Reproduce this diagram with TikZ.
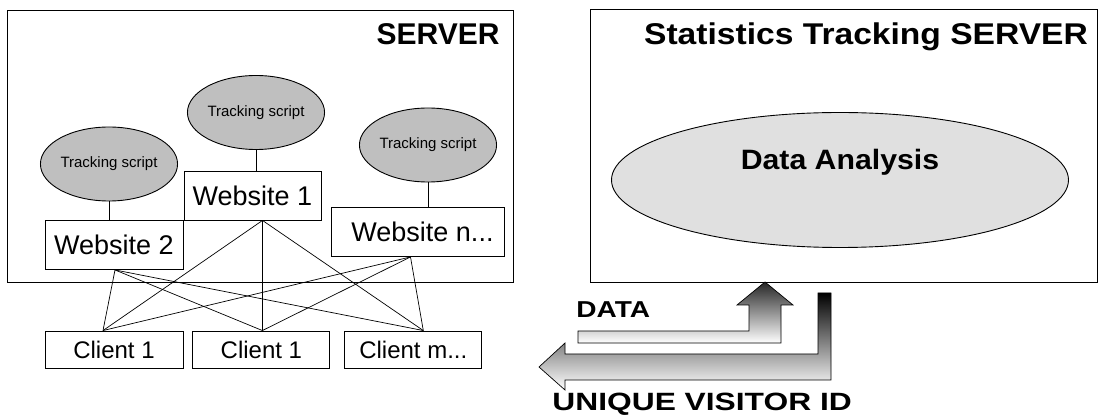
\documentclass[tikz,border=0pt]{standalone}
\usepackage{fontspec}
\setmainfont{Liberation Sans}
\usetikzlibrary{shapes.geometric,positioning,calc}

\newcommand{\pxsize}[1]{\fontsize{#1}{#1}\selectfont}
\newcommand{\wide}[2]{\scalebox{#1}[1]{#2}}

\begin{document}
\begin{tikzpicture}[
    x=1pt, y=-1pt,
    line width=0.9pt,
    frame/.style ={rectangle, draw, inner sep=0pt},
    title/.style ={font=\pxsize{30}\bfseries, inner sep=0pt},
    site/.style  ={rectangle, draw, fill=white, inner sep=0pt,
                   minimum height=49pt, font=\pxsize{27}},
    client/.style={rectangle, draw, fill=white, inner sep=0pt,
                   minimum width=137pt, minimum height=37pt, font=\pxsize{24}},
    script/.style={ellipse, draw, fill=black!25, inner sep=0pt,
                   minimum width=114pt, minimum height=74pt, font=\pxsize{15}},
    link/.style  ={draw, line width=0.7pt},
    fat/.style   ={draw, line width=0.7pt, bottom color=white},
    tag/.style   ={font=\bfseries, inner sep=0pt}
]
\useasboundingbox (0,0) rectangle (1098,419);

%–––– SERVERS ––––––––––––––––––––––––––––––––––––––
\node (server) [frame, minimum width=506pt, minimum height=272pt] at (260,146) {};
\node (stats)  [frame, minimum width=507pt, minimum height=273pt] at (843.5,145.5) {};

\node (servertitle) [title, anchor=base east] at (500,45) {SERVER};
\node (statstitle)  [title, anchor=base] at (866,45)
  {\wide{1.12}{Statistics Tracking SERVER}};

%–––– DATA ANALYSIS –––––––––––––––––––––––––––––––
\node (analysis) [ellipse, draw, fill=black!12, inner sep=0pt,
                  minimum width=457pt, minimum height=135pt,
                  text height=20pt, text depth=40pt,
                  font=\pxsize{28}\bfseries] at (840,180) {\wide{1.08}{Data Analysis}};

%–––– WEBSITES –––––––––––––––––––––––––––––––––––––
\node (w1) [site, minimum width=137pt] at (252.5,195.5) {Website 1};
\node (w2) [site, minimum width=138pt] at (114,245)     {Website 2};
\node (wn) [site, minimum width=173pt] at (417.5,232)   {\hspace{10pt}Website n...};

\node (s1) [script] at (256,112.5) {Tracking script};
\node (s2) [script] at (109,164)   {Tracking script};
\node (sn) [script] at (428,145)   {Tracking script};

\foreach \a/\b in {s1/w1, s2/w2, sn/wn}
  \draw[link] (\a.south) -- (\a.south |- \b.north);

%–––– CLIENTS ––––––––––––––––––––––––––––––––––––––
\node (c1) [client, minimum width=138pt] at (114,349.5) {Client 1};
\node (c2) [client, right=9pt of c1]  {Client 1};
\node (cm) [client, right=14pt of c2] {Client m...};

\coordinate (w1b) at ([xshift=10pt]w1.south);
\coordinate (w2b) at ([xshift=1pt]w2.south);
\coordinate (wnb) at ([xshift=-7pt]wn.south);
\coordinate (c1t) at ([xshift=-11pt]c1.north);
\coordinate (c2t) at ([xshift=1pt]c2.north);
\coordinate (cmt) at ([xshift=10pt]cm.north);

\foreach \a in {w2b, w1b, wnb}
  \foreach \b in {c1t, c2t, cmt}
    \draw[link] (\a) -- (\b);

%–––– DATA / VISITOR ID ARROWS –––––––––––––––––––––
\shade[fat, top color=black!85]
  (578,331) -- (749,331) -- (749,305) -- (737,305) -- (765,282)
  -- (793,305) -- (781,305) -- (781,343) -- (578,343) -- cycle;
\shade[fat, top color=black]
  (818,293) -- (831,293) -- (831,380) -- (565,380) -- (565,390)
  -- (539,367) -- (565,343) -- (565,354) -- (818,354) -- cycle;

\node (data)    [tag, anchor=base west, font=\pxsize{23}\bfseries] at (576,318)
  {\wide{1.22}{DATA}};
\node (visitor) [tag, anchor=base west, font=\pxsize{25}\bfseries] at (552,411)
  {\wide{1.27}{UNIQUE VISITOR ID}};
\end{tikzpicture}
\end{document}
